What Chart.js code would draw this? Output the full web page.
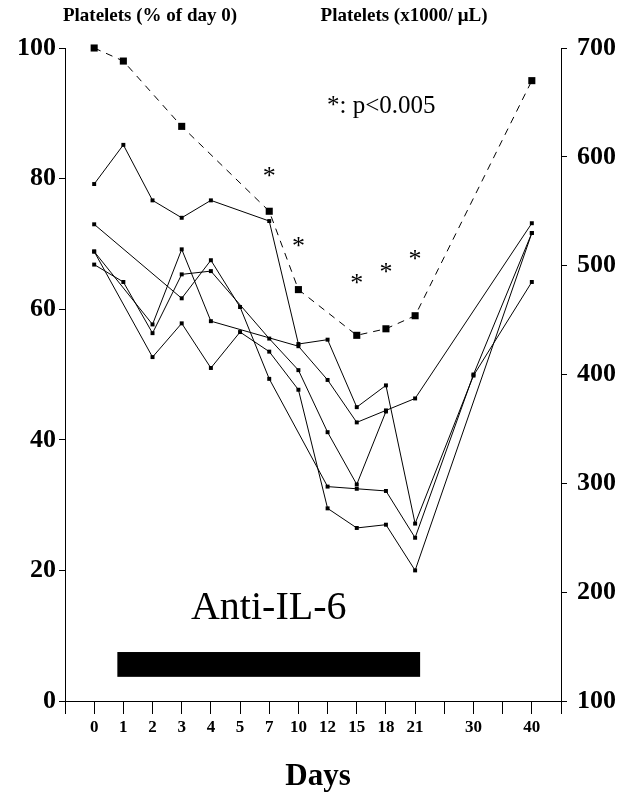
<!DOCTYPE html>
<html>
<head>
<meta charset="utf-8">
<script src="https://cdn.jsdelivr.net/npm/chart.js@4.4.1/dist/chart.umd.min.js"></script>
<style>
  html, body { margin: 0; padding: 0; background: #fff; }
  #wrap { width: 617px; height: 793px; }
</style>
</head>
<body>
<div id="wrap"><canvas id="platelets"></canvas></div>
<script>
////////// Platelets after Anti-IL-6

// Data
const days = [0, 1, 2, 3, 4, 5, 7, 10, 12, 15, 18, 21, 30, 40];
const axisLabels = ["", "0", "1", "2", "3", "4", "5", "7", "10", "12", "15", "18", "21", "", "30", "", "40", ""];

// mean, % of day 0 (left axis)
const meanPct = [100, 98, null, 88, null, null, 75, 63, null, 56, 57, 59, null, 95];

// single animals, x1000/uL (right axis)
const animal1 = [575, 611, 560, 544, 560, null, 541, 428, 432, 370, 390, 263, 399, 485];
const animal2 = [538, null, null, 470, 505, 462, 396, null, 297, 295, 293, 250, 400, 530];
const animal3 = [513, null, 446, 515, 449, null, null, 426, 395, 356, 367, 378, null, 539];
const animal4 = [501, 485, 438, 492, 495, null, 433, 404, 347, 299, 366, null, null, null];
const animal5 = [513, null, 416, 447, 406, 439, 421, 386, 277, 259, 262, 220, null, 530];

// p<0.005 marks (day, height in % of day 0)
const starDays = [7, 10, 15, 18, 21];
const starLevels = [81.3, 70.6, 64.9, 66.6, 68.6];

// treatment period
const treatDays = [1, 21];

const serif = "'Liberation Serif', 'Times New Roman', serif";

const toPoints = (values) =>
  days
    .map((d, i) => (values[i] == null ? null : { x: String(d), y: values[i] }))
    .filter((p) => p !== null);

const animalSet = (values) => ({
  data: toPoints(values),
  yAxisID: "yR",
  borderColor: "#000",
  borderWidth: 1,
  pointStyle: "rect",
  pointRadius: 2.8,
  pointBackgroundColor: "#000",
  pointBorderWidth: 0,
  tension: 0,
  clip: false,
});

const annotations = {
  id: "annotations",
  afterDraw(chart) {
    const { ctx } = chart;
    const x = chart.scales.x;
    const yL = chart.scales.yL;
    ctx.save();
    ctx.fillStyle = "#000";
    ctx.textBaseline = "alphabetic";

    // axis headers
    ctx.font = "bold 19px " + serif;
    ctx.textAlign = "center";
    ctx.fillText("Platelets (% of day 0)", 150, 21);
    ctx.fillText("Platelets (x1000/ \u03bcL)", 404, 21);

    // legend for stars
    ctx.font = "25px " + serif;
    ctx.textAlign = "left";
    ctx.fillText("*: p<0.005", 327, 113);

    // stars
    ctx.font = "26px " + serif;
    ctx.textAlign = "center";
    starDays.forEach((d, i) => {
      const px = x.getPixelForValue(axisLabels.indexOf(String(d)));
      const py = yL.getPixelForValue(starLevels[i]);
      ctx.fillText("*", px, py + 14);
    });

    // treatment bar
    const x0 = x.getPixelForValue(axisLabels.indexOf(String(treatDays[0]))) - 6;
    const x1 = x.getPixelForValue(axisLabels.indexOf(String(treatDays[1]))) + 5;
    const yTop = yL.getPixelForValue(7.5);
    const yBot = yL.getPixelForValue(3.7);
    ctx.fillRect(x0, yTop, x1 - x0, yBot - yTop);

    ctx.font = "40px " + serif;
    ctx.textAlign = "center";
    ctx.fillText("Anti-IL-6", (x0 + x1) / 2, 619);

    // x title
    ctx.font = "bold 31px " + serif;
    ctx.fillText("Days", 318, 785);
    ctx.restore();
  },
};

const plateletsEl = document.getElementById("platelets").getContext("2d");

const plateletsChart = new Chart(plateletsEl, {
  type: "line",
  data: {
    labels: axisLabels,
    datasets: [
      {
        data: toPoints(meanPct),
        yAxisID: "yL",
        borderColor: "#000",
        borderWidth: 1,
        borderDash: [7, 6],
        pointStyle: "rect",
        pointRadius: 5,
        pointBackgroundColor: "#000",
        pointBorderWidth: 0,
        tension: 0,
        clip: false,
      },
      animalSet(animal1),
      animalSet(animal2),
      animalSet(animal3),
      animalSet(animal4),
      animalSet(animal5),
    ],
  },
  options: {
    responsive: true,
    maintainAspectRatio: false,
    animation: false,
    layout: { padding: { top: 48, left: 0, right: 0, bottom: 0 } },
    plugins: {
      legend: { display: false },
      tooltip: { enabled: false },
    },
    scales: {
      x: {
        type: "category",
        offset: false,
        grid: { drawOnChartArea: false, tickLength: 13, color: "#000" },
        border: { display: true, color: "#000", width: 1 },
        ticks: {
          autoSkip: false,
          maxRotation: 0,
          padding: 3,
          color: "#000",
          font: { family: serif, size: 17, weight: "bold" },
        },
        afterFit: (scale) => {
          scale.height = 92;
        },
      },
      yL: {
        position: "left",
        min: 0,
        max: 100,
        grid: { drawOnChartArea: false, tickLength: 6, color: "#000" },
        border: { display: true, color: "#000", width: 1 },
        ticks: {
          stepSize: 20,
          padding: 3,
          color: "#000",
          font: { family: serif, size: 26, weight: "bold" },
        },
        afterFit: (scale) => {
          scale.width = 65;
        },
      },
      yR: {
        position: "right",
        min: 100,
        max: 700,
        grid: { drawOnChartArea: false, tickLength: 6, color: "#000" },
        border: { display: true, color: "#000", width: 1 },
        ticks: {
          stepSize: 100,
          padding: 10,
          color: "#000",
          font: { family: serif, size: 26, weight: "bold" },
        },
        afterFit: (scale) => {
          scale.width = 56;
        },
      },
    },
  },
  plugins: [annotations],
});
</script>
</body>
</html>
